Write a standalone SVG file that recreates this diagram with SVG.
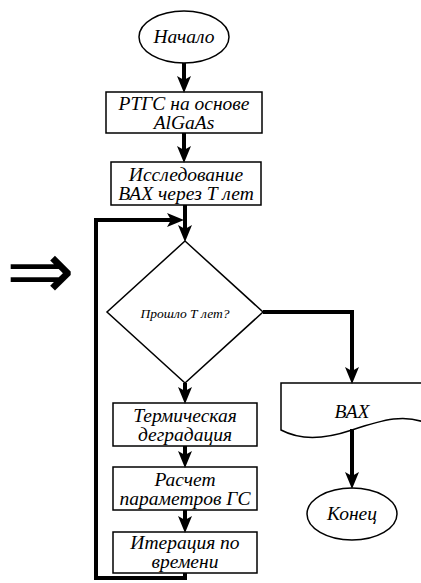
<svg xmlns="http://www.w3.org/2000/svg" width="421" height="583" viewBox="0 0 421 583">
<style>
  .shape { fill: #fff; stroke: #000; stroke-width: 1.5; }
  .t { font-family: 'Liberation Serif', 'Times New Roman', serif; font-style: italic; font-size: 19.5px; fill: #000; text-anchor: middle; }
  .small { font-size: 13.5px; }
  .conn { fill: none; stroke: #000; stroke-width: 4; stroke-linejoin: miter; }
</style>
<defs>
  <marker id="ah" markerUnits="userSpaceOnUse" markerWidth="18" markerHeight="16" refX="8" refY="8" orient="auto">
    <path d="M0,1 L17,8 L0,15 L4,8 Z" fill="#000"/>
  </marker>
</defs>
<rect width="421" height="583" fill="#fff"/>

<g id="start">
  <ellipse class="shape" cx="184" cy="37" rx="45" ry="26"/>
  <text class="t" x="184" y="43">Начало</text>
</g>
<g id="box1">
  <rect class="shape" x="106" y="92" width="156" height="41"/>
  <text class="t" x="184" y="110">РТГС на основе</text>
  <text class="t" x="184" y="129">AlGaAs</text>
</g>
<g id="box2">
  <rect class="shape" x="111" y="162" width="150" height="43"/>
  <text class="t" x="186" y="181">Исследование</text>
  <text class="t" x="186" y="200">ВАХ через Т лет</text>
</g>
<g id="decision">
  <polygon class="shape" points="185,241 263,312 185,383 107,312"/>
  <text class="t small" x="185" y="318">Прошло Т лет?</text>
</g>
<g id="box3">
  <rect class="shape" x="113" y="403" width="144" height="43"/>
  <text class="t" x="185" y="422">Термическая</text>
  <text class="t" x="185" y="441">деградация</text>
</g>
<g id="box4">
  <rect class="shape" x="113" y="467" width="144" height="43"/>
  <text class="t" x="185" y="486">Расчет</text>
  <text class="t" x="185" y="505">параметров ГС</text>
</g>
<g id="box5">
  <rect class="shape" x="113" y="532" width="144" height="41"/>
  <text class="t" x="185" y="549">Итерация по</text>
  <text class="t" x="185" y="568">времени</text>
</g>
<g id="doc">
  <path class="shape" d="M281,383 H426 V423 C405,414 385,419 352,430 C322,440 300,440 281,430 Z"/>
  <text class="t" x="352" y="418">ВАХ</text>
</g>
<g id="end">
  <ellipse class="shape" cx="352" cy="514" rx="45" ry="26"/>
  <text class="t" x="352" y="520">Конец</text>
</g>
<g id="implies">
  <text x="6" y="299" font-family="DejaVu Sans, sans-serif" font-size="82" fill="#000">⇒</text>
</g>

<g id="connectors">
  <line class="conn" x1="184" y1="63" x2="184" y2="84" marker-end="url(#ah)"/>
  <line class="conn" x1="184" y1="133" x2="184" y2="154" marker-end="url(#ah)"/>
  <line class="conn" x1="185" y1="205" x2="185" y2="233" marker-end="url(#ah)"/>
  <line class="conn" x1="185" y1="383" x2="185" y2="395" marker-end="url(#ah)"/>
  <line class="conn" x1="185" y1="446" x2="185" y2="459" marker-end="url(#ah)"/>
  <line class="conn" x1="185" y1="510" x2="185" y2="524" marker-end="url(#ah)"/>
  <polyline class="conn" points="185,573 185,578 96,578 96,220 175,220" marker-end="url(#ah)"/>
  <polyline class="conn" points="263,312 352,312 352,375" marker-end="url(#ah)"/>
  <line class="conn" x1="352" y1="429" x2="352" y2="480" marker-end="url(#ah)"/>
</g>
</svg>
